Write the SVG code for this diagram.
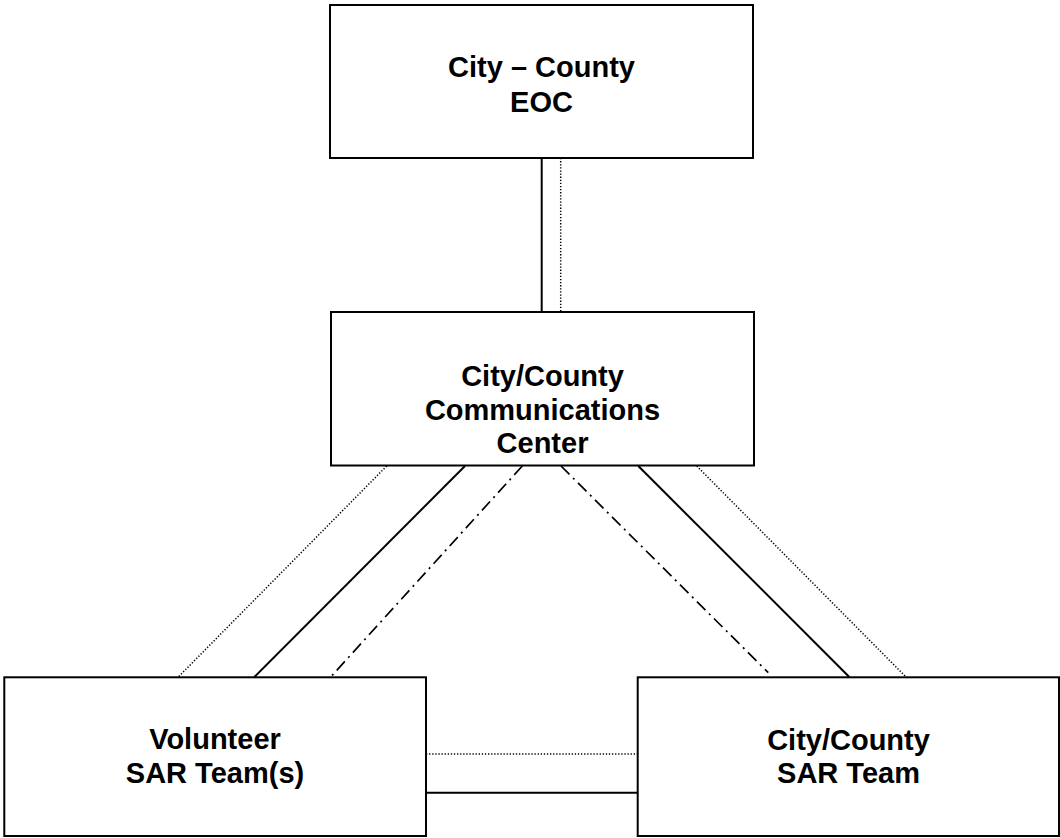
<svg xmlns="http://www.w3.org/2000/svg" width="1060" height="838" viewBox="0 0 1060 838">
  <style>
    .box { fill: #ffffff; stroke: #000000; stroke-width: 2; }
    .lbl { font-family: "Liberation Sans", Arial, sans-serif; font-weight: bold; font-size: 29px; fill: #000000; text-anchor: middle; }
    .solid { stroke: #000000; stroke-width: 2; fill: none; }
    .dot { stroke: #000000; stroke-width: 1.5; fill: none; stroke-dasharray: 1.3 1.8; }
    .dashdot { stroke: #000000; stroke-width: 1.7; fill: none; stroke-dasharray: 12 5 2 5; }
  </style>
  <rect width="1060" height="838" fill="#ffffff"/>
  <g id="connectors">
    <line class="solid" x1="541.7" y1="158" x2="541.7" y2="312"/>
    <line class="dot" x1="560.7" y1="158" x2="560.7" y2="312"/>
    <line class="dot" x1="386.7" y1="466" x2="178.3" y2="677"/>
    <line class="solid" x1="465" y1="466" x2="254.3" y2="677"/>
    <line class="dashdot" x1="522.3" y1="466" x2="330.7" y2="677"/>
    <line class="dashdot" x1="561" y1="466" x2="768.3" y2="672.7"/>
    <line class="solid" x1="638.3" y1="466" x2="849.3" y2="677"/>
    <line class="dot" x1="696.7" y1="466" x2="906" y2="677"/>
    <line class="dot" x1="426" y1="754" x2="638" y2="754"/>
    <line class="solid" x1="426" y1="792.7" x2="638" y2="792.7"/>
  </g>
  <g id="eoc">
    <rect class="box" x="330" y="5" width="423" height="153"/>
    <text class="lbl" x="541.5" y="76.7">City – County</text>
    <text class="lbl" x="541.5" y="111.7">EOC</text>
  </g>
  <g id="comm-center">
    <rect class="box" x="331" y="312" width="423" height="153.5"/>
    <text class="lbl" x="542.5" y="386">City/County</text>
    <text class="lbl" x="542.5" y="419.5">Communications</text>
    <text class="lbl" x="542.5" y="453">Center</text>
  </g>
  <g id="volunteer-sar">
    <rect class="box" x="4.3" y="677.3" width="421.7" height="158.7"/>
    <text class="lbl" x="215" y="749">Volunteer</text>
    <text class="lbl" x="215" y="783">SAR Team(s)</text>
  </g>
  <g id="city-county-sar">
    <rect class="box" x="637.7" y="677.3" width="421.3" height="158.7"/>
    <text class="lbl" x="848.5" y="749.5">City/County</text>
    <text class="lbl" x="848.5" y="782.7">SAR Team</text>
  </g>
</svg>
